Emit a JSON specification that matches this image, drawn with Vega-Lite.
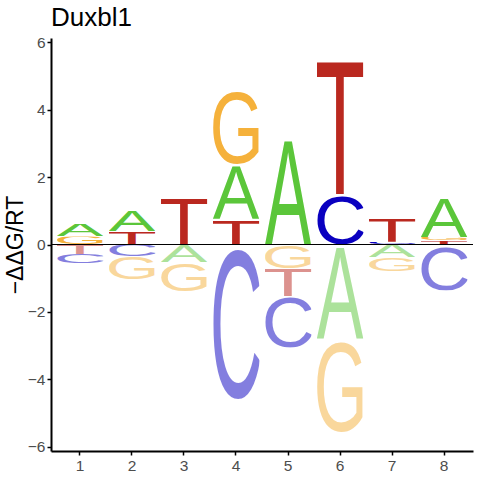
{
  "$schema": "https://vega.github.io/schema/vega-lite/v6.json",
  "width": 422,
  "height": 413,
  "autosize": "none",
  "padding": {"left": 51, "top": 38, "right": 7, "bottom": 29},
  "background": "white",
  "title": {
    "text": "Duxbl1",
    "anchor": "start",
    "frame": "group",
    "baseline": "alphabetic",
    "offset": 11,
    "dy": 28,
    "font": "Liberation Sans",
    "fontSize": 26,
    "fontWeight": "normal",
    "color": "black"
  },
  "config": {
    "view": {"stroke": null},
    "axis": {
      "grid": false,
      "domainColor": "black",
      "domainWidth": 2,
      "tickColor": "black",
      "tickWidth": 1.5,
      "tickSize": 4,
      "labelColor": "#4d4d4d",
      "labelFont": "Liberation Sans",
      "labelFontSize": 15.5,
      "titleFont": "Liberation Sans",
      "titleFontWeight": "normal",
      "titleColor": "black"
    }
  },
  "data": {
    "values": [
      {"pos": 1, "letter": "G", "value": 0.24},
      {"pos": 1, "letter": "A", "value": 0.38},
      {"pos": 1, "letter": "T", "value": -0.28},
      {"pos": 1, "letter": "C", "value": -0.28},
      {"pos": 2, "letter": "T", "value": 0.39},
      {"pos": 2, "letter": "A", "value": 0.63},
      {"pos": 2, "letter": "C", "value": -0.36},
      {"pos": 2, "letter": "G", "value": -0.68},
      {"pos": 3, "letter": "T", "value": 1.42},
      {"pos": 3, "letter": "A", "value": -0.52},
      {"pos": 3, "letter": "G", "value": -0.87},
      {"pos": 4, "letter": "T", "value": 0.76},
      {"pos": 4, "letter": "A", "value": 1.61},
      {"pos": 4, "letter": "G", "value": 2.24},
      {"pos": 4, "letter": "C", "value": -4.6},
      {"pos": 5, "letter": "A", "value": 3.2},
      {"pos": 5, "letter": "G", "value": -0.7},
      {"pos": 5, "letter": "T", "value": -0.83},
      {"pos": 5, "letter": "C", "value": -1.53},
      {"pos": 6, "letter": "C", "value": 1.5},
      {"pos": 6, "letter": "T", "value": 4.07},
      {"pos": 6, "letter": "A", "value": -2.8},
      {"pos": 6, "letter": "G", "value": -2.78},
      {"pos": 7, "letter": "C", "value": 0.08},
      {"pos": 7, "letter": "T", "value": 0.69},
      {"pos": 7, "letter": "A", "value": -0.37},
      {"pos": 7, "letter": "G", "value": -0.42},
      {"pos": 8, "letter": "T", "value": 0.12},
      {"pos": 8, "letter": "G", "value": 0.1},
      {"pos": 8, "letter": "A", "value": 1.16},
      {"pos": 8, "letter": "C", "value": -1.36}
    ]
  },
  "transform": [
    {"stack": "value", "groupby": ["pos"], "offset": "zero", "as": ["y0", "y1"]}
  ],
  "encoding": {
    "x": {
      "field": "pos",
      "type": "ordinal",
      "scale": {"type": "band", "paddingInner": 0.1, "paddingOuter": 0.107},
      "axis": {"title": null, "labelAngle": 0, "labelPadding": 3}
    },
    "y": {
      "field": "y1",
      "type": "quantitative",
      "scale": {"domain": [-6.12, 6.12], "nice": false, "zero": false},
      "axis": {"title": "−ΔΔG/RT", "titleFontSize": 23, "values": [-6, -4, -2, 0, 2, 4, 6], "labelPadding": 2, "titlePadding": 0}
    },
    "y2": {"field": "y0"},
    "opacity": {"condition": {"test": "datum.value < 0", "value": 0.5}, "value": 1}
  },
  "layer": [
    {
      "transform": [{"filter": "datum.letter === 'A'"}],
      "mark": {"type": "image", "aspect": false},
      "encoding": {"url": {"value": "data:image/svg+xml;utf8,<svg xmlns='http://www.w3.org/2000/svg' viewBox='-3 -1466 1372 1466' preserveAspectRatio='none'><text x='0' y='0' font-family='Liberation Sans' font-size='2048' fill='rgb(91,198,58)'>A</text></svg>"}}
    },
    {
      "transform": [{"filter": "datum.letter === 'C'"}],
      "mark": {"type": "image", "aspect": false},
      "encoding": {"url": {"value": "data:image/svg+xml;utf8,<svg xmlns='http://www.w3.org/2000/svg' viewBox='81 -1491 1304 1516' preserveAspectRatio='none'><text x='0' y='0' font-family='Liberation Sans' font-size='2048' fill='rgb(10,0,192)'>C</text></svg>"}}
    },
    {
      "transform": [{"filter": "datum.letter === 'G'"}],
      "mark": {"type": "image", "aspect": false},
      "encoding": {"url": {"value": "data:image/svg+xml;utf8,<svg xmlns='http://www.w3.org/2000/svg' viewBox='85 -1491 1385 1516' preserveAspectRatio='none'><text x='0' y='0' font-family='Liberation Sans' font-size='2048' fill='rgb(245,177,59)'>G</text></svg>"}}
    },
    {
      "transform": [{"filter": "datum.letter === 'T'"}],
      "mark": {"type": "image", "aspect": false},
      "encoding": {"url": {"value": "data:image/svg+xml;utf8,<svg xmlns='http://www.w3.org/2000/svg' viewBox='48 -1466 1162 1466' preserveAspectRatio='none'><text x='0' y='0' font-family='Liberation Sans' font-size='2048' fill='rgb(186,40,31)'>T</text></svg>"}}
    },
    {
      "transform": [{"filter": "datum.pos === 1 && datum.letter === 'G'"}],
      "mark": {"type": "rule", "color": "black", "strokeWidth": 1},
      "encoding": {"y": {"datum": 0}, "y2": null, "x": null, "opacity": {"value": 1}}
    }
  ]
}
